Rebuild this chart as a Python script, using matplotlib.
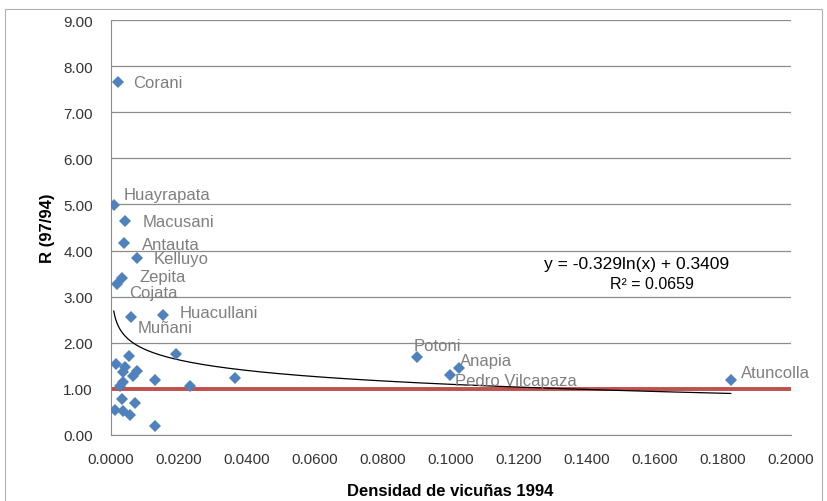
import numpy as np
import matplotlib.pyplot as plt
from matplotlib.patches import Rectangle

# labelled districts
named = ["Corani", "Huayrapata", "Macusani", "Antauta", "Kelluyo", "Zepita",
         "Cojata", "Muñani", "Huacullani", "Potoni", "Anapia",
         "Pedro Vilcapaza", "Atuncolla"]
named_x = [0.0021, 0.0008, 0.0041, 0.0039, 0.0076, 0.0033,
           0.0019, 0.0058, 0.0154, 0.0901, 0.1024, 0.0997, 0.1823]
named_y = [7.66, 4.99, 4.64, 4.16, 3.84, 3.41,
           3.28, 2.55, 2.61, 1.69, 1.45, 1.31, 1.20]
# text offsets (pixels) for each label
label_dx = [15, 10, 18, 18, 17, 17, 12, 7, 16, -4, 1, 5, 10]
label_dy = [-1, 10, 0, -1, -1, 1, -9, -10, 2, 12, 8, -6, 7]

# unlabelled districts
other_x = [0.0054, 0.0015, 0.0041, 0.0076, 0.0036, 0.0066, 0.0034, 0.0026,
           0.0191, 0.0129, 0.0232, 0.0365, 0.0031, 0.0071, 0.0012, 0.0036,
           0.0056, 0.0129]
other_y = [1.72, 1.54, 1.47, 1.39, 1.36, 1.27, 1.14, 1.07,
           1.76, 1.20, 1.07, 1.23, 0.78, 0.69, 0.55, 0.53,
           0.43, 0.19]

# logarithmic trend
trend_a = -0.329
trend_b = 0.3409
trend_r2 = 0.0659

x_all = np.array(named_x + other_x)
y_all = np.array(named_y + other_y)

plt.rcParams['font.family'] = ['Liberation Sans', 'DejaVu Sans']

fig = plt.figure(figsize=(8.28, 5.02), dpi=100)
fig.patches.append(Rectangle((5 / 828, -1 / 502), 817 / 828, 493 / 502,
                             transform=fig.transFigure, fill=False,
                             edgecolor='#b0b0b0', linewidth=0.8))
ax = fig.add_axes([111 / 828, 66 / 502, 680 / 828, 415 / 502])

ax.set_xlim(0, 0.2)
ax.set_ylim(0, 9)
ax.set_xticks(np.arange(0, 0.2001, 0.02))
ax.set_yticks(np.arange(0, 9.01, 1))
ax.set_xticklabels([f"{v:.4f}" for v in np.arange(0, 0.2001, 0.02)])
ax.set_yticklabels([f"{v:.2f}" for v in np.arange(0, 9.01, 1)])
ax.tick_params(length=0, labelsize=11, labelcolor='#333333')
ax.tick_params(axis='x', pad=12)
ax.tick_params(axis='y', pad=13)
ax.grid(axis='y', color='#8c8c8c', linewidth=0.9)
ax.set_axisbelow(True)
for side in ['top', 'right']:
    ax.spines[side].set_visible(False)
for side in ['left', 'bottom']:
    ax.spines[side].set_color('#8c8c8c')

# reference line R = 1
ax.axhline(1.0, color='#c0504d', linewidth=2.8, zorder=2)

tx = np.linspace(x_all.min(), x_all.max(), 400)
ax.plot(tx, trend_a * np.log(tx) + trend_b, color='black', linewidth=0.9, zorder=3)

ax.plot(x_all, y_all, 'D', color='#4f81bd', markersize=6.5, markeredgewidth=0, zorder=4)

for name, x, y, dx, dy in zip(named, named_x, named_y, label_dx, label_dy):
    ax.annotate(name, (x, y), xytext=(dx, dy), textcoords='offset pixels',
                ha='left', va='center', fontsize=12, color='#7f7f7f', zorder=5)

ax.text(0.1547, 3.71, f"y = {trend_a}ln(x) + {trend_b}", ha='center', va='center',
        fontsize=12.5, color='black')
ax.text(0.159, 3.28, f"R² = {trend_r2}", ha='center', va='center',
        fontsize=11.5, color='black')

ax.set_xlabel("Densidad de vicuñas 1994", fontsize=12, fontweight='bold')
ax.xaxis.set_label_coords(0.4985, -0.115)
ax.set_ylabel("R (97/94)", fontsize=12, fontweight='bold')
ax.yaxis.set_label_coords(-0.082, 0.5)

fig.savefig("out.png", dpi=100)
